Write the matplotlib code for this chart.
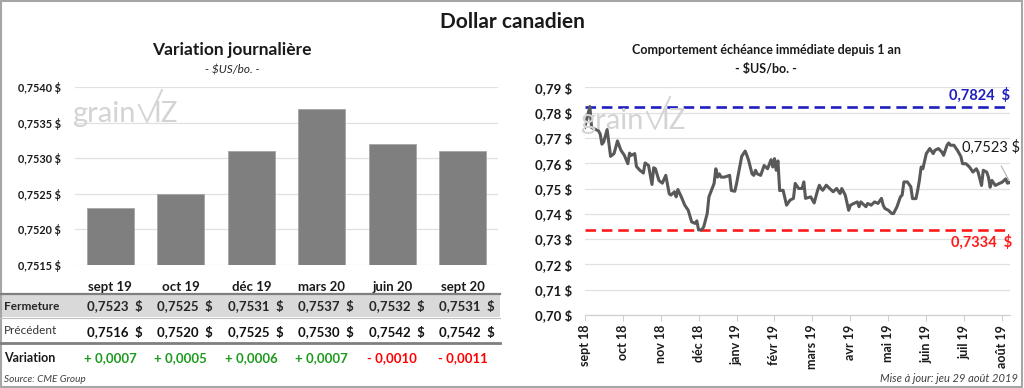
import matplotlib
matplotlib.use("Agg")
import matplotlib.pyplot as plt
from matplotlib.patches import Rectangle
from matplotlib.lines import Line2D
from matplotlib.transforms import blended_transform_factory
import numpy as np

plt.rcParams['font.family'] = ['Lato', 'DejaVu Sans']

# ---------------- data ----------------
contracts = ["sept 19", "oct 19", "déc 19", "mars 20", "juin 20", "sept 20"]
fermeture = [0.7523, 0.7525, 0.7531, 0.7537, 0.7532, 0.7531]
precedent = [0.7516, 0.7520, 0.7525, 0.7530, 0.7542, 0.7542]
variation = [0.0007, 0.0005, 0.0006, 0.0007, -0.0010, -0.0011]

left_yticks = [0.7515, 0.7520, 0.7525, 0.7530, 0.7535, 0.7540]

# nearby trading-day index and price of the front-month contract
day_idx = [0, 3, 4, 8, 9, 10, 11, 13, 15, 17, 19, 21, 23, 25, 26, 27, 29, 30, 32, 34,
           35, 37, 39, 40, 41, 43, 45, 47, 48, 49, 50, 52, 53, 54, 56, 58, 60, 62, 64, 65,
           66, 68, 69, 71, 72, 75, 76, 77, 78, 79, 81, 84, 85, 87, 88, 91, 93, 94, 95, 97,
           98, 99, 100, 102, 104, 106, 108, 109, 110, 111, 112, 113, 115, 117, 119, 121, 122, 124, 126, 127,
           128, 131, 133, 135, 136, 137, 138, 140, 142, 144, 146, 148, 149, 151, 153, 154, 156, 158, 159, 160,
           162, 163, 164, 166, 168, 170, 172, 173, 174, 176, 178, 179, 181, 183, 184, 185, 187, 189, 190, 192,
           193, 194, 195, 196, 198, 200, 202, 203, 205, 207, 208, 210, 211, 212, 214, 216, 218, 219, 221, 223,
           225, 227, 228, 230, 231, 233, 234, 235, 236, 238, 240, 242, 244, 245, 246]
price = [0.7741, 0.7824, 0.7741, 0.7728, 0.7715, 0.7675, 0.7684, 0.7733, 0.7627, 0.7638,
         0.7688, 0.7651, 0.7631, 0.7598, 0.7640, 0.7631, 0.7638, 0.7587, 0.7572, 0.7561,
         0.7601, 0.7591, 0.7516, 0.7582, 0.7578, 0.7532, 0.7521, 0.7552, 0.7516, 0.7479,
         0.7474, 0.7487, 0.7467, 0.7496, 0.7467, 0.7434, 0.7414, 0.7368, 0.7362, 0.7372,
         0.7336, 0.7338, 0.7349, 0.7401, 0.7467, 0.7520, 0.7578, 0.7545, 0.7558, 0.7545,
         0.7545, 0.7552, 0.7492, 0.7489, 0.7519, 0.7627, 0.7648, 0.7631, 0.7611, 0.7558,
         0.7552, 0.7572, 0.7558, 0.7552, 0.7591, 0.7578, 0.7614, 0.7585, 0.7618, 0.7572,
         0.7609, 0.7492, 0.7493, 0.7434, 0.7454, 0.7461, 0.7520, 0.7500, 0.7500, 0.7526,
         0.7461, 0.7467, 0.7443, 0.7493, 0.7513, 0.7500, 0.7493, 0.7513, 0.7500, 0.7487,
         0.7500, 0.7480, 0.7500, 0.7474, 0.7414, 0.7434, 0.7441, 0.7447, 0.7428, 0.7447,
         0.7434, 0.7428, 0.7441, 0.7434, 0.7447, 0.7441, 0.7461, 0.7434, 0.7421, 0.7414,
         0.7401, 0.7401, 0.7428, 0.7467, 0.7474, 0.7526, 0.7526, 0.7507, 0.7460, 0.7460,
         0.7493, 0.7533, 0.7585, 0.7578, 0.7638, 0.7658, 0.7638, 0.7651, 0.7658, 0.7644,
         0.7631, 0.7671, 0.7680, 0.7671, 0.7671, 0.7651, 0.7627, 0.7598, 0.7598, 0.7585,
         0.7565, 0.7578, 0.7565, 0.7512, 0.7572, 0.7565, 0.7545, 0.7505, 0.7532, 0.7512,
         0.7519, 0.7525, 0.7538, 0.7521, 0.7523]

month_labels = ["sept 18", "oct 18", "nov 18", "déc 18", "janv 19", "févr 19", "mars 19",
                "avr 19", "mai 19", "juin 19", "juil 19", "août 19"]
month_tick_days = [0, 22, 44, 66, 88, 110, 132, 154, 176, 198, 220, 242]
right_yticks = [0.70, 0.71, 0.72, 0.73, 0.74, 0.75, 0.76, 0.77, 0.78, 0.79]
high_val = 0.7824
low_val = 0.7334
last_val = 0.7523

# ---------------- figure ----------------
W, H = 1024, 388
fig = plt.figure(figsize=(W / 100, H / 100), dpi=100)


def fx(px):
    return px / W


def fy(py):
    return 1 - py / H


def axes_px(x0, x1, ytop, ybot):
    return [fx(x0), fy(ybot), fx(x1) - fx(x0), (ybot - ytop) / H]


# outer border
fig.add_artist(Rectangle((0.001, 0.002), 0.997, 0.995, transform=fig.transFigure,
                         fill=False, edgecolor="#a6a6a6", lw=1.5))

fig.text(fx(512), fy(22), "Dollar canadien", ha="center", va="center",
         fontsize=15, fontweight="bold", color="#1a1a1a")

# ---------------- left panel ----------------
fig.text(fx(232), fy(50), "Variation journalière", ha="center", va="center",
         fontsize=12.5, fontweight="bold", color="#1a1a1a")
fig.text(fx(232), fy(70), "- $US/bo. -", ha="center", va="center",
         fontsize=8.5, style="italic", color="#262626")

axL = fig.add_axes(axes_px(75, 498, 87.3, 265))
x = np.arange(len(contracts))
axL.bar(x, fermeture, width=0.66, color="#7f7f7f", edgecolor="#a6a6a6", linewidth=0.6,
        zorder=3)
axL.set_xlim(-0.5, len(contracts) - 0.5)
axL.set_ylim(left_yticks[0], left_yticks[-1])
axL.set_yticks(left_yticks)
axL.set_yticklabels([f"{v:.4f} $".replace(".", ",") for v in left_yticks],
                    fontsize=7.8, fontweight="bold", color="#1a1a1a")
axL.tick_params(axis="y", length=0, pad=10)
axL.set_xticks([])
axL.grid(axis="y", color="#e0e0e0", lw=0.9, zorder=0)
for s in axL.spines.values():
    s.set_visible(False)

# table under the bars
tr = blended_transform_factory(axL.transData, fig.transFigure)
fig.add_artist(Rectangle((0, fy(317)), fx(500), (317 - 294) / H, transform=fig.transFigure,
                         facecolor="#d9d9d9", edgecolor="none", zorder=0))
fig.add_artist(Line2D([0, fx(500)], [fy(293.5)] * 2, transform=fig.transFigure,
                      color="#7f7f7f", lw=1.6))
fig.add_artist(Line2D([0, fx(500)], [fy(317.5)] * 2, transform=fig.transFigure,
                      color="#bfbfbf", lw=0.8))
fig.add_artist(Line2D([0, fx(500)], [fy(343)] * 2, transform=fig.transFigure,
                      color="#7f7f7f", lw=2.0))

fig.text(fx(4), fy(306), "Fermeture", ha="left", va="center", fontsize=8.5,
         color="#262626", fontweight="bold")
fig.text(fx(4), fy(331), "Précédent", ha="left", va="center", fontsize=8.5,
         color="#333333")
fig.text(fx(4), fy(358), "Variation", ha="left", va="center", fontsize=9,
         fontweight="bold", color="#1a1a1a")

for i, c in enumerate(contracts):
    axL.text(i, fy(287), c, transform=tr, ha="center", va="center",
             fontsize=9.5, fontweight="bold", color="#1a1a1a")
    axL.text(i + 0.06, fy(306), f"{fermeture[i]:.4f}  $".replace(".", ","), transform=tr,
             ha="center", va="center", fontsize=9.5, fontweight="bold", color="#262626")
    axL.text(i + 0.06, fy(332), f"{precedent[i]:.4f}  $".replace(".", ","), transform=tr,
             ha="center", va="center", fontsize=9.5, fontweight="bold", color="#111111")
    v = variation[i]
    sign = "+" if v >= 0 else "-"
    col = "#1e9a1e" if v >= 0 else "#ff0000"
    axL.text(i, fy(358), f"{sign} {abs(v):.4f}".replace(".", ","), transform=tr,
             ha="center", va="center", fontsize=9.5, fontweight="bold", color=col)

fig.text(fx(4), fy(379), "Source: CME Group", ha="left", va="center", fontsize=7.2,
         style="italic", color="#404040")

# ---------------- right panel ----------------
fig.text(fx(766), fy(50), "Comportement échéance immédiate depuis 1 an", ha="center",
         va="center", fontsize=9, fontweight="bold", color="#1a1a1a")
fig.text(fx(766), fy(69), "- $US/bo. -", ha="center", va="center", fontsize=9,
         fontweight="bold", color="#1a1a1a")

axR = fig.add_axes(axes_px(584.7, 1010, 87.3, 315))
axR.plot(day_idx, price, color="#595959", lw=2.2, zorder=4, solid_joinstyle="round")
axR.axhline(high_val, color="#1f1fbf", lw=1.9, ls=(0, (4, 2.2)), zorder=3)
axR.axhline(low_val, color="#ff1a1a", lw=1.9, ls=(0, (4, 2.2)), zorder=3)
axR.set_xlim(0, 246.5)
axR.set_ylim(right_yticks[0], right_yticks[-1])
axR.set_yticks(right_yticks)
axR.set_yticklabels([f"{v:.2f} $".replace(".", ",") for v in right_yticks],
                    fontsize=9.5, fontweight="bold", color="#1a1a1a")
axR.tick_params(axis="y", length=0, pad=9)
axR.set_xticks(month_tick_days)
axR.set_xticklabels(month_labels, rotation=90, fontsize=9, fontweight="bold",
                    color="#1a1a1a")
axR.tick_params(axis="x", length=4, color="#d0d0d0", pad=3)
axR.grid(axis="y", color="#e0e0e0", lw=0.9, zorder=0)
for s in ["top", "right", "left"]:
    axR.spines[s].set_visible(False)
axR.spines["bottom"].set_color("#d0d0d0")
axR.spines["bottom"].set_linewidth(0.9)

axR.text(1.0, high_val + 0.0016, f"{high_val:.4f}  $".replace(".", ","),
         transform=blended_transform_factory(axR.transAxes, axR.transData),
         ha="right", va="bottom", fontsize=10.5, fontweight="bold", color="#1f1fbf")
axR.text(1.005, low_val - 0.0018, f"{low_val:.4f}  $".replace(".", ","),
         transform=blended_transform_factory(axR.transAxes, axR.transData),
         ha="right", va="top", fontsize=10.5, fontweight="bold", color="#ff1a1a")
axR.annotate(f"{last_val:.4f} $".replace(".", ","), xy=(day_idx[-1], last_val + 0.0008),
             xytext=(991, H - 147), textcoords="figure pixels", ha="center", va="center",
             fontsize=10.5, color="#1a1a1a",
             arrowprops=dict(arrowstyle="-", color="#a6a6a6", lw=0.7,
                             shrinkA=7, shrinkB=0), annotation_clip=False)

fig.text(fx(1018), fy(379), "Mise à jour: jeu 29 août 2019", ha="right", va="center",
         fontsize=8, style="italic", color="#404040")


# ---------------- watermarks ----------------
def watermark(x0, ybase, scale=1.0):
    col = "#d4d4d4"
    fig.text(fx(x0), fy(ybase), "grain", ha="left", va="baseline",
             fontsize=21 * scale, color=col, zorder=1)
    vx = [x0 + 67 * scale, x0 + 75 * scale, x0 + 90 * scale]
    vy = [ybase - 17 * scale, ybase, ybase - 32 * scale]
    fig.add_artist(Line2D([fx(v) for v in vx], [fy(v) for v in vy],
                          transform=fig.transFigure, color=col, lw=1.4, zorder=1))
    fig.text(fx(x0 + 81 * scale), fy(ybase), "IZ", ha="left", va="baseline",
             fontsize=20 * scale, color=col, zorder=1)


watermark(72, 122)
watermark(580, 129, 1.0)

fig.savefig("out.png", dpi=100)
